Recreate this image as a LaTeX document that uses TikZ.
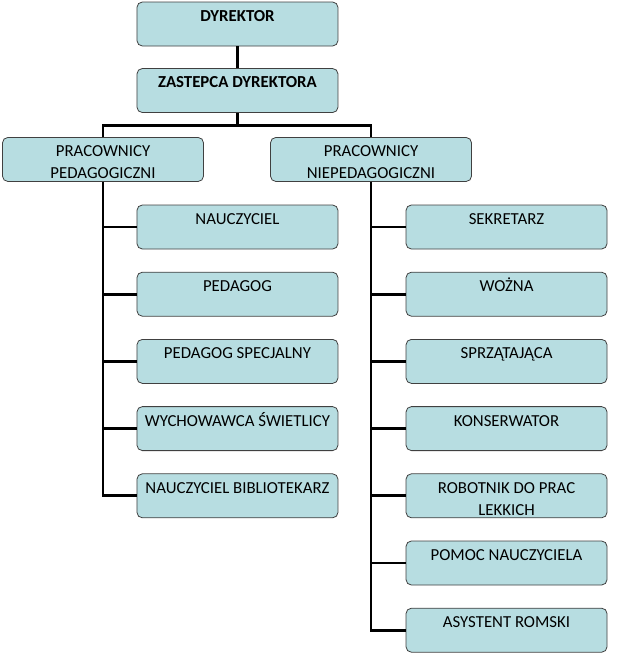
\documentclass[tikz,border=0pt]{standalone}
\usepackage{fontspec}
\setmainfont{Carlito}
\usepackage{xcolor}
\usetikzlibrary{positioning}
\newcommand{\twolines}[2]{\rule{0pt}{12.6pt}#1\\#2\mbox{}}

\begin{document}
\begin{tikzpicture}[x=1pt, y=1pt,
  box/.style={draw=black!75, line width=0.6pt, rounded corners=4pt, fill=boxteal, align=center,
    minimum width=150.75pt, minimum height=33pt, inner sep=0pt, font=\fontsize{12.6}{16.5}\selectfont},
  head/.style={box, font=\bfseries\fontsize{12.6}{16.5}\selectfont},
  link/.style={line width=2.2pt}]
  \definecolor{boxteal}{RGB}{183,221,225}
  \useasboundingbox (0,0) rectangle (476.25,-503.25);
  % management
  \node[head] (boss) at (178.1,-18) {\twolines{DYREKTOR}{}};
  \node[head] (deputy) at (178.1,-67.9) {\twolines{ZASTEPCA DYREKTORA}{}};
  % the two staff groups
  \node[box] (ped) at (77.25,-119.6) {\twolines{PRACOWNICY}{PEDAGOGICZNI}};
  \node[box] (nonped) at (278.25,-119.6) {\twolines{PRACOWNICY}{NIEPEDAGOGICZNI}};
  % teaching staff
  \node[box] (teacher) at (178.1,-170.25) {\twolines{NAUCZYCIEL}{}};
  \node[box, below=16.8pt of teacher] (pedagogue) {\twolines{PEDAGOG}{}};
  \node[box, below=16.8pt of pedagogue] (special) {\twolines{PEDAGOG SPECJALNY}{}};
  \node[box, below=16.8pt of special] (daycare) {\twolines{WYCHOWAWCA ŚWIETLICY}{}};
  \node[box, below=16.8pt of daycare] (librarian) {\twolines{NAUCZYCIEL BIBLIOTEKARZ}{}};
  % other staff
  \node[box] (secretary) at (379.9,-170.25) {\twolines{SEKRETARZ}{}};
  \node[box, below=16.8pt of secretary] (janitor) {\twolines{WOŻNA}{}};
  \node[box, below=16.8pt of janitor] (cleaner) {\twolines{SPRZĄTAJĄCA}{}};
  \node[box, below=16.8pt of cleaner] (caretaker) {\twolines{KONSERWATOR}{}};
  \node[box, below=16.8pt of caretaker] (worker) {\twolines{ROBOTNIK DO PRAC}{LEKKICH}};
  \node[box, below=16.8pt of worker] (assistant) {\twolines{POMOC NAUCZYCIELA}{}};
  \node[box, below=16.8pt of assistant] (roma) {\twolines{ASYSTENT ROMSKI}{}};
  % connectors
  \draw[link] (boss) -- (deputy);
  \draw[link] (deputy.south) -- ++(0,-9.75) coordinate (split);
  \draw[link] (ped.north) |- (split) -| (nonped.north);
  \foreach \n in {teacher, pedagogue, special, daycare, librarian}
    \draw[link] (ped.south) |- (\n.west);
  \foreach \n in {secretary, janitor, cleaner, caretaker, worker, assistant, roma}
    \draw[link] (nonped.south) |- (\n.west);
\end{tikzpicture}
\end{document}
